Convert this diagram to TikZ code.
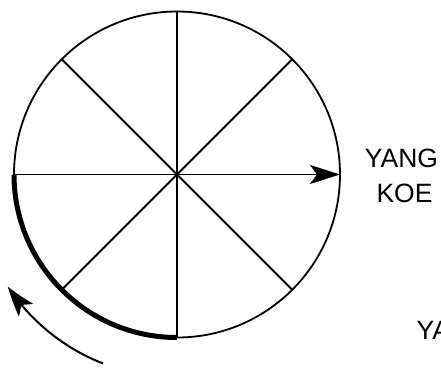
\documentclass[tikz,border=0pt]{standalone}
\usepackage{fontspec}
\setmainfont{Liberation Sans}
\usetikzlibrary{arrows.meta,bending,calc}
\begin{document}
\begin{tikzpicture}[x=1pt,y=-1pt,
  thin line/.style={line width=1.8pt},
  big tip/.style={-{Stealth[length=30pt,width=19pt,inset=7pt,bend]}},
  label text/.style={inner sep=0pt,font=\fontsize{26.5}{30}\selectfont}]
\useasboundingbox (0,0) rectangle (441,367);
\coordinate (c) at (177,174.5);
\def\R{163}
\coordinate (w) at ($(c)+(-\R,0)$);
\coordinate (e) at (340,174.5);
\coordinate (n) at (177,11.5);
\coordinate (s) at (177,337.5);
% circle
\draw[thin line] (c) circle[radius=\R];
% spokes
\draw[thin line] (n) -- (s);
\draw[thin line] (c) -- +(45:\R) (c) -- +(135:\R) (c) -- +(225:\R) (c) -- +(315:\R);
\draw[thin line] (w) -- (c);
\draw[thin line,big tip] (c) -- (e);
% thick arc
\draw[line width=5pt] (w) arc[start angle=180,end angle=90,radius=\R];
% curved arrow
\coordinate (t0) at ($(c)+(-74,189)$);
\draw[line width=2pt,big tip] (t0) arc[start angle=111.4,end angle=146.5,radius=203];
% labels
\node[label text,anchor=base] (yang) at (401.5,167) {YANG};
\node[label text,anchor=base] (koe) at (404.5,202) {KOE};
\node[label text,anchor=base west] (ya) at (416.5,339) {YA};
\end{tikzpicture}
\end{document}
